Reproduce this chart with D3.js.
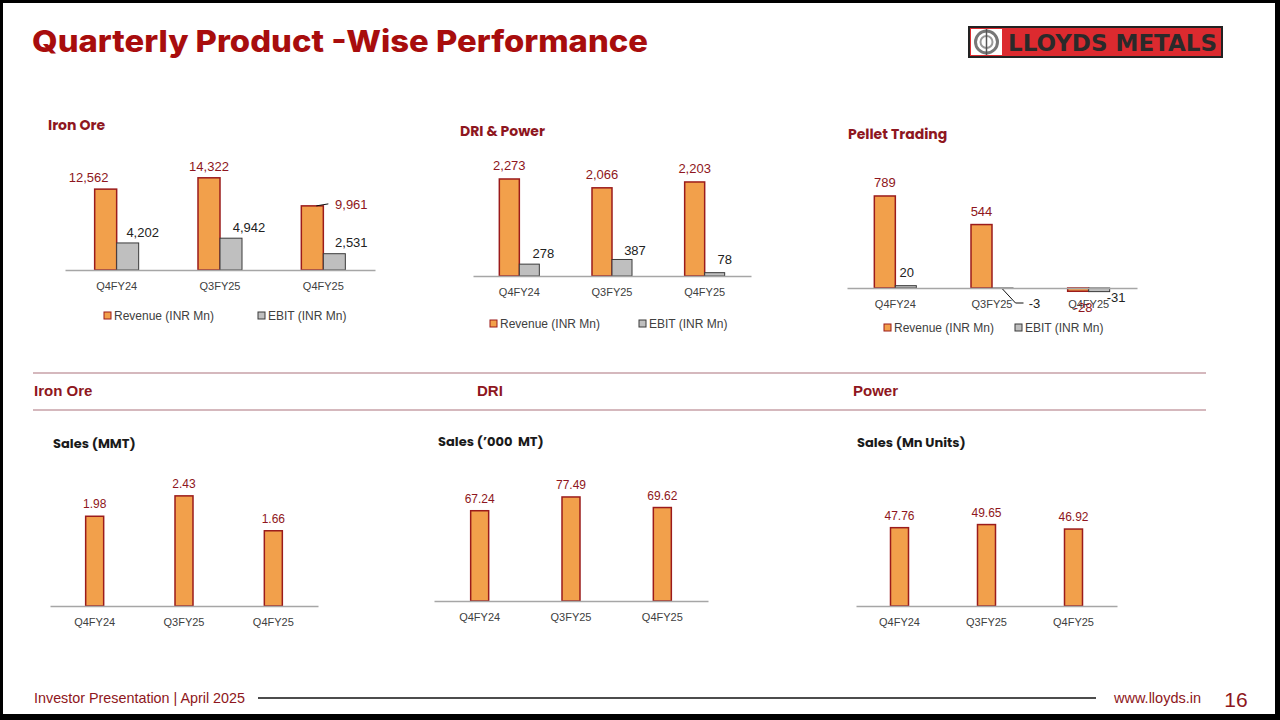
<!DOCTYPE html>
<html>
<head>
<meta charset="utf-8">
<script src="https://cdn.jsdelivr.net/npm/d3@7"></script>
<style>
  html, body { margin: 0; padding: 0; background: #fff; }
  svg { display: block; }
</style>
</head>
<body>
<div id="chart"></div>
<script>
// ---- data ----
const quarters = ["Q4FY24", "Q3FY25", "Q4FY25"];

const ironOreRevenue = [12562, 14322, 9961];
const ironOreEbit = [4202, 4942, 2531];

const driPowerRevenue = [2273, 2066, 2203];
const driPowerEbit = [278, 387, 78];

const pelletRevenue = [789, 544, -28];
const pelletEbit = [20, -3, -31];

const ironOreSales = [1.98, 2.43, 1.66];
const driSales = [67.24, 77.49, 69.62];
const powerSales = [47.76, 49.65, 46.92];

const legendNames = ["Revenue (INR Mn)", "EBIT (INR Mn)"];

const W = 1280, H = 720;
const darkRed = "#8e1620";
const titleRed = "#a80d0d";
const orange = "#f2a04b";
const barStroke = "#9b1b1b";
const grey = "#bfbfbf";
const axisGrey = "#a6a6a6";
const labelFont = "'Liberation Sans', Arial, sans-serif";
const narrowFont = "'Liberation Sans Narrow', 'Arial Narrow', 'Liberation Sans', sans-serif";

const svg = d3.select("#chart").append("svg")
  .attr("width", W).attr("height", H)
  .attr("viewBox", [0, 0, W, H]);

svg.append("rect").attr("width", W).attr("height", H).attr("fill", "#fff");

// ---- header ----
svg.append("text")
  .attr("x", 32).attr("y", 52)
  .attr("font-family", "Inter, 'Open Sans', sans-serif")
  .attr("font-weight", 800)
  .attr("font-size", 30)
  .attr("fill", titleRed)
  .attr("textLength", 616)
  .attr("lengthAdjust", "spacingAndGlyphs")
  .text("Quarterly Product -Wise Performance");

// logo
const logo = svg.append("g");
logo.append("rect").attr("x", 969).attr("y", 27).attr("width", 253).attr("height", 30)
  .attr("fill", "#dc2a2f").attr("stroke", "#222").attr("stroke-width", 2);
logo.append("rect").attr("x", 971).attr("y", 29).attr("width", 31).attr("height", 26).attr("fill", "#fff");
logo.append("circle").attr("cx", 986.5).attr("cy", 42).attr("r", 11)
  .attr("fill", "#fff").attr("stroke", "#777").attr("stroke-width", 3);
logo.append("circle").attr("cx", 986.5).attr("cy", 42).attr("r", 6)
  .attr("fill", "none").attr("stroke", "#999").attr("stroke-width", 2);
logo.append("line").attr("x1", 986.5).attr("x2", 986.5).attr("y1", 29).attr("y2", 55)
  .attr("stroke", "#555").attr("stroke-width", 1.5);
logo.append("text").attr("x", 1008).attr("y", 51)
  .attr("font-family", "'DejaVu Sans', sans-serif").attr("font-weight", 700)
  .attr("font-size", 23).attr("fill", "#2a2a2a")
  .attr("textLength", 209).attr("lengthAdjust", "spacingAndGlyphs")
  .text("LLOYDS METALS");

// ---- chart helpers ----
function chartTitle(x, y, text) {
  svg.append("text").attr("x", x).attr("y", y)
    .attr("font-family", "Poppins, 'Open Sans', sans-serif")
    .attr("font-weight", 700).attr("font-size", 14)
    .attr("fill", darkRed).text(text);
}

function drawAxis(g, x, baseline) {
  const ax = g.append("g")
    .attr("transform", `translate(0,${baseline})`)
    .call(d3.axisBottom(x).tickSize(0).tickSizeOuter(0).tickPadding(12));
  ax.select(".domain").attr("stroke", axisGrey).attr("stroke-width", 1.5);
  ax.selectAll("text")
    .attr("font-family", labelFont).attr("font-size", 11).attr("fill", "#404040");
  return ax;
}

// grouped revenue / EBIT chart
function groupedChart(o) {
  const g = svg.append("g");
  const x = d3.scaleBand(quarters, [o.x0, o.x1]);
  const y = d3.scaleLinear([0, o.max], [o.baseline, o.baseline - o.maxPx]);
  const bw = o.barW;
  const cx = (q) => x(q) + x.bandwidth() / 2;

  const series = [
    { key: "rev", values: o.revenue, off: -bw, fill: orange, stroke: barStroke, sw: 1.5, color: darkRed, lab: o.revLabels },
    { key: "ebit", values: o.ebit, off: 0, fill: grey, stroke: "#3a3a3a", sw: 1, color: "#222", lab: o.ebitLabels },
  ];

  series.forEach((s) => {
    const data = quarters.map((q, i) => ({ q, v: s.values[i], i }));
    g.selectAll(null).data(data).join("rect")
      .attr("x", (d) => cx(d.q) + s.off)
      .attr("y", (d) => y(Math.max(0, d.v)))
      .attr("width", bw)
      .attr("height", (d) => Math.abs(y(d.v) - y(0)))
      .attr("fill", s.fill).attr("stroke", s.stroke).attr("stroke-width", s.sw);
  });

  drawAxis(g, x, o.baseline);

  series.forEach((s) => {
    const data = quarters.map((q, i) => ({ q, v: s.values[i], i }));
    const bc = (d) => cx(d.q) + s.off + bw / 2;
    const top = (d) => (d.v >= 0 ? y(d.v) : y(0));
    data.forEach((d) => {
      const l = s.lab[d.i];
      if (l.leader) {
        g.append("path")
          .attr("d", d3.line()(l.leader.map((p) => [bc(d) + p[0], top(d) + p[1]])))
          .attr("fill", "none").attr("stroke", "#111").attr("stroke-width", 1);
      }
    });
    g.selectAll(null).data(data).join("text")
      .attr("x", (d) => bc(d) + s.lab[d.i].dx)
      .attr("y", (d) => top(d) + s.lab[d.i].dy)
      .attr("text-anchor", "middle")
      .attr("font-family", labelFont).attr("font-size", 13)
      .attr("fill", s.color)
      .text((d) => d3.format(",")(d.v).replace("−", "-"));
  });

  // legend
  const lg = g.append("g").attr("transform", `translate(0,${o.legendY})`);
  legendNames.forEach((name, i) => {
    const lx = o.legendX[i];
    lg.append("rect").attr("x", lx).attr("y", -4).attr("width", 7).attr("height", 7)
      .attr("fill", i === 0 ? orange : grey)
      .attr("stroke", i === 0 ? barStroke : "#3a3a3a").attr("stroke-width", 1);
    lg.append("text").attr("x", lx + 10).attr("y", 0).attr("dy", "0.35em")
      .attr("font-family", labelFont).attr("font-size", 12).attr("fill", "#404040")
      .text(name);
  });
}

// single series sales chart
function salesChart(o) {
  const g = svg.append("g");
  const x = d3.scaleBand(quarters, [o.x0, o.x1]);
  const y = d3.scaleLinear([0, o.max], [o.baseline, o.baseline - o.maxPx]);
  const cx = (q) => x(q) + x.bandwidth() / 2;
  const data = quarters.map((q, i) => ({ q, v: o.values[i] }));

  g.selectAll(null).data(data).join("rect")
    .attr("x", (d) => cx(d.q) - o.barW / 2)
    .attr("y", (d) => y(d.v))
    .attr("width", o.barW)
    .attr("height", (d) => y(0) - y(d.v))
    .attr("fill", orange).attr("stroke", barStroke).attr("stroke-width", 1.5);

  drawAxis(g, x, o.baseline);

  g.selectAll(null).data(data).join("text")
    .attr("x", (d) => cx(d.q))
    .attr("y", (d) => y(d.v) - 8)
    .attr("text-anchor", "middle")
    .attr("font-family", labelFont).attr("font-size", 12).attr("fill", darkRed)
    .text((d) => d3.format(".2f")(d.v));

  svg.append("text").attr("x", o.subX).attr("y", o.subY)
    .attr("font-family", "Poppins, 'Open Sans', sans-serif")
    .attr("font-weight", 700).attr("font-size", 13).attr("fill", "#1a1a1a")
    .attr("xml:space", "preserve")
    .text(o.subtitle);
}

// ---- top row ----
chartTitle(48, 130, "Iron Ore");
groupedChart({
  x0: 65, x1: 375, baseline: 270, max: 16000, maxPx: 103, barW: 22,
  revenue: ironOreRevenue, ebit: ironOreEbit,
  revLabels: [{ dx: -17, dy: -7 }, { dx: 0, dy: -7 }, { dx: 39, dy: 3, leader: [[4, 0], [16, -2]] }],
  ebitLabels: [{ dx: 15, dy: -6 }, { dx: 18, dy: -6 }, { dx: 17, dy: -7 }],
  legendY: 316, legendX: [104, 258],
});

chartTitle(460, 136, "DRI & Power");
groupedChart({
  x0: 473, x1: 751, baseline: 276, max: 2500, maxPx: 106.7, barW: 20,
  revenue: driPowerRevenue, ebit: driPowerEbit,
  revLabels: [{ dx: 0, dy: -9 }, { dx: 0, dy: -9 }, { dx: 0, dy: -9 }],
  ebitLabels: [{ dx: 14, dy: -6 }, { dx: 13, dy: -4 }, { dx: 10, dy: -9 }],
  legendY: 324, legendX: [490, 639],
});

chartTitle(848, 139, "Pellet Trading");
groupedChart({
  x0: 847, x1: 1137, baseline: 288, max: 800, maxPx: 93.3, barW: 21,
  revenue: pelletRevenue, ebit: pelletEbit,
  revLabels: [{ dx: 0, dy: -9 }, { dx: 0, dy: -9 }, { dx: 5, dy: 24 }],
  ebitLabels: [{ dx: 1, dy: -9 }, { dx: 32, dy: 20, leader: [[0, 1], [13, 15], [21, 15]] }, { dx: 17, dy: 14 }],
  legendY: 328, legendX: [884, 1015],
});

// ---- section band ----
[373, 410].forEach((yy) => {
  svg.append("line").attr("x1", 33).attr("x2", 1206).attr("y1", yy).attr("y2", yy)
    .attr("stroke", "#c7a0a7").attr("stroke-width", 1.5);
});
[["Iron Ore", 34], ["DRI", 477], ["Power", 853]].forEach(([t, xx]) => {
  svg.append("text").attr("x", xx).attr("y", 396)
    .attr("font-family", narrowFont).attr("font-weight", 700)
    .attr("font-size", 15).attr("fill", darkRed).text(t);
});

// ---- bottom row ----
salesChart({
  x0: 50, x1: 318, baseline: 606, max: 2.5, maxPx: 113.3, barW: 18,
  values: ironOreSales, subtitle: "Sales (MMT)", subX: 53, subY: 448,
});
salesChart({
  x0: 434, x1: 708, baseline: 601, max: 80, maxPx: 107.4, barW: 18,
  values: driSales, subtitle: "Sales (\u2019000  MT)", subX: 438, subY: 446,
});
salesChart({
  x0: 856, x1: 1117, baseline: 606, max: 50, maxPx: 82, barW: 18,
  values: powerSales, subtitle: "Sales (Mn Units)", subX: 857, subY: 447,
});

// ---- footer ----
svg.append("text").attr("x", 34).attr("y", 703)
  .attr("font-family", narrowFont).attr("font-size", 15).attr("fill", darkRed)
  .attr("textLength", 211).attr("lengthAdjust", "spacingAndGlyphs")
  .text("Investor Presentation | April 2025");
svg.append("line").attr("x1", 258).attr("x2", 1096).attr("y1", 698).attr("y2", 698)
  .attr("stroke", "#111").attr("stroke-width", 1.5);
svg.append("text").attr("x", 1114).attr("y", 703)
  .attr("font-family", narrowFont).attr("font-size", 15).attr("fill", darkRed)
  .attr("textLength", 87).attr("lengthAdjust", "spacingAndGlyphs")
  .text("www.lloyds.in");
svg.append("text").attr("x", 1236).attr("y", 707).attr("text-anchor", "middle")
  .attr("font-family", narrowFont).attr("font-size", 21).attr("fill", darkRed)
  .text("16");

// black frame around the slide capture
const frame = svg.append("g").attr("fill", "#000");
frame.append("rect").attr("x", 0).attr("y", 0).attr("width", W).attr("height", 3);
frame.append("rect").attr("x", 0).attr("y", 0).attr("width", 3).attr("height", H);
frame.append("rect").attr("x", W - 5).attr("y", 0).attr("width", 5).attr("height", H);
frame.append("rect").attr("x", 0).attr("y", H - 6).attr("width", W).attr("height", 6);
</script>
</body>
</html>
